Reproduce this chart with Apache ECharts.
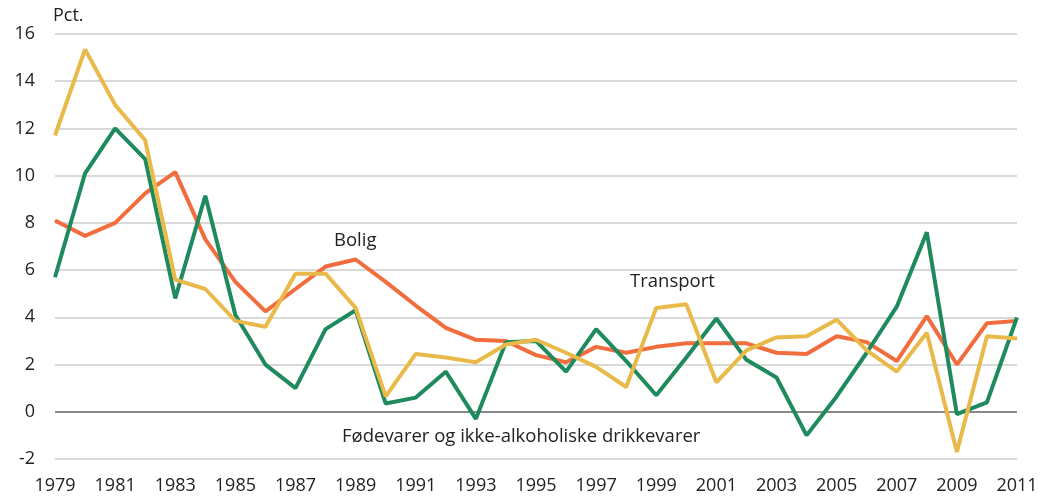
<!DOCTYPE html>
<html>
<head>
<meta charset="utf-8">
<script src="https://cdn.jsdelivr.net/npm/echarts@6/dist/echarts.min.js"></script>
<style>
html,body{margin:0;padding:0;background:#fff;}
#main{width:1051px;height:497px;}
</style>
</head>
<body>
<div id="main"></div>
<script>
// årstall
var years = ['1979','1980','1981','1982','1983','1984','1985','1986','1987','1988',
  '1989','1990','1991','1992','1993','1994','1995','1996','1997','1998',
  '1999','2000','2001','2002','2003','2004','2005','2006','2007','2008',
  '2009','2010','2011'];

// Fødevarer og ikke-alkoholiske drikkevarer
var matData = [5.7,10.1,12.0,10.7,4.8,9.15,4.1,2.0,1.0,3.5,
  4.3,0.35,0.6,1.7,-0.3,2.95,3.0,1.7,3.5,2.15,
  0.7,2.3,3.95,2.2,1.45,-1.0,0.65,2.5,4.45,7.6,
  -0.1,0.4,4.0];

// Bolig
var boligData = [8.1,7.45,8.0,9.25,10.15,7.3,5.5,4.25,5.2,6.15,
  6.45,5.5,4.5,3.55,3.05,3.0,2.4,2.1,2.75,2.5,
  2.75,2.9,2.9,2.9,2.5,2.45,3.2,2.95,2.15,4.05,
  2.0,3.75,3.85];

// Transport
var transportData = [11.7,15.35,13.0,11.5,5.6,5.2,3.85,3.6,5.85,5.85,
  4.4,0.65,2.45,2.3,2.1,2.85,3.05,2.5,1.9,1.05,
  4.4,4.55,1.25,2.6,3.15,3.2,3.9,2.6,1.7,3.35,
  -1.7,3.2,3.1];

var yTicks = [-2,0,2,4,6,8,10,12,14,16];

var myChart = echarts.init(document.getElementById('main'));

var fnt = '"Open Sans", "Noto Sans", sans-serif';

var option = {
    animation: false,
    grid: {left: 55, right: 34, top: 34, bottom: 38},
    xAxis: {
        type: 'category',
        data: years,
        boundaryGap: false,
        axisLine: {show: false},
        axisTick: {show: false},
        axisLabel: {
            interval: 1,
            color: '#222',
            fontSize: 18,
            fontFamily: fnt,
            margin: 18
        },
        splitLine: {show: false}
    },
    yAxis: {
        type: 'value',
        min: yTicks[0],
        max: yTicks[yTicks.length - 1],
        interval: 2,
        axisLine: {show: false},
        axisTick: {show: false},
        axisLabel: {
            color: '#222',
            fontSize: 18,
            fontFamily: fnt,
            margin: 20
        },
        splitLine: {
            lineStyle: {
                color: yTicks.map(function(v){ return v === 0 ? '#8a8a8a' : '#d9d9d9'; }),
                width: 2
            }
        }
    },
    graphic: [
        {type: 'text', left: 53, top: 7,
         style: {text: 'Pct.', fontSize: 18, fontFamily: fnt, fill: '#222'}},
        {type: 'text', left: 334, top: 231,
         style: {text: 'Bolig', fontSize: 18.5, fontFamily: fnt, fill: '#222'}},
        {type: 'text', left: 630, top: 272,
         style: {text: 'Transport', fontSize: 18.5, fontFamily: fnt, fill: '#222'}},
        {type: 'text', left: 342, top: 427,
         style: {text: 'Fødevarer og ikke-alkoholiske drikkevarer', fontSize: 18.5, fontFamily: fnt, fill: '#222'}}
    ],
    series: [
        {
            name: 'Bolig',
            type: 'line',
            data: boligData,
            symbol: 'none',
            lineStyle: {color: '#f26d3d', width: 4}
        },
        {
            name: 'Fødevarer og ikke-alkoholiske drikkevarer',
            type: 'line',
            data: matData,
            symbol: 'none',
            lineStyle: {color: '#1e8a5e', width: 4}
        },
        {
            name: 'Transport',
            type: 'line',
            data: transportData,
            symbol: 'none',
            lineStyle: {color: '#e9b949', width: 4}
        }
    ]
};

myChart.setOption(option);
</script>
</body>
</html>
